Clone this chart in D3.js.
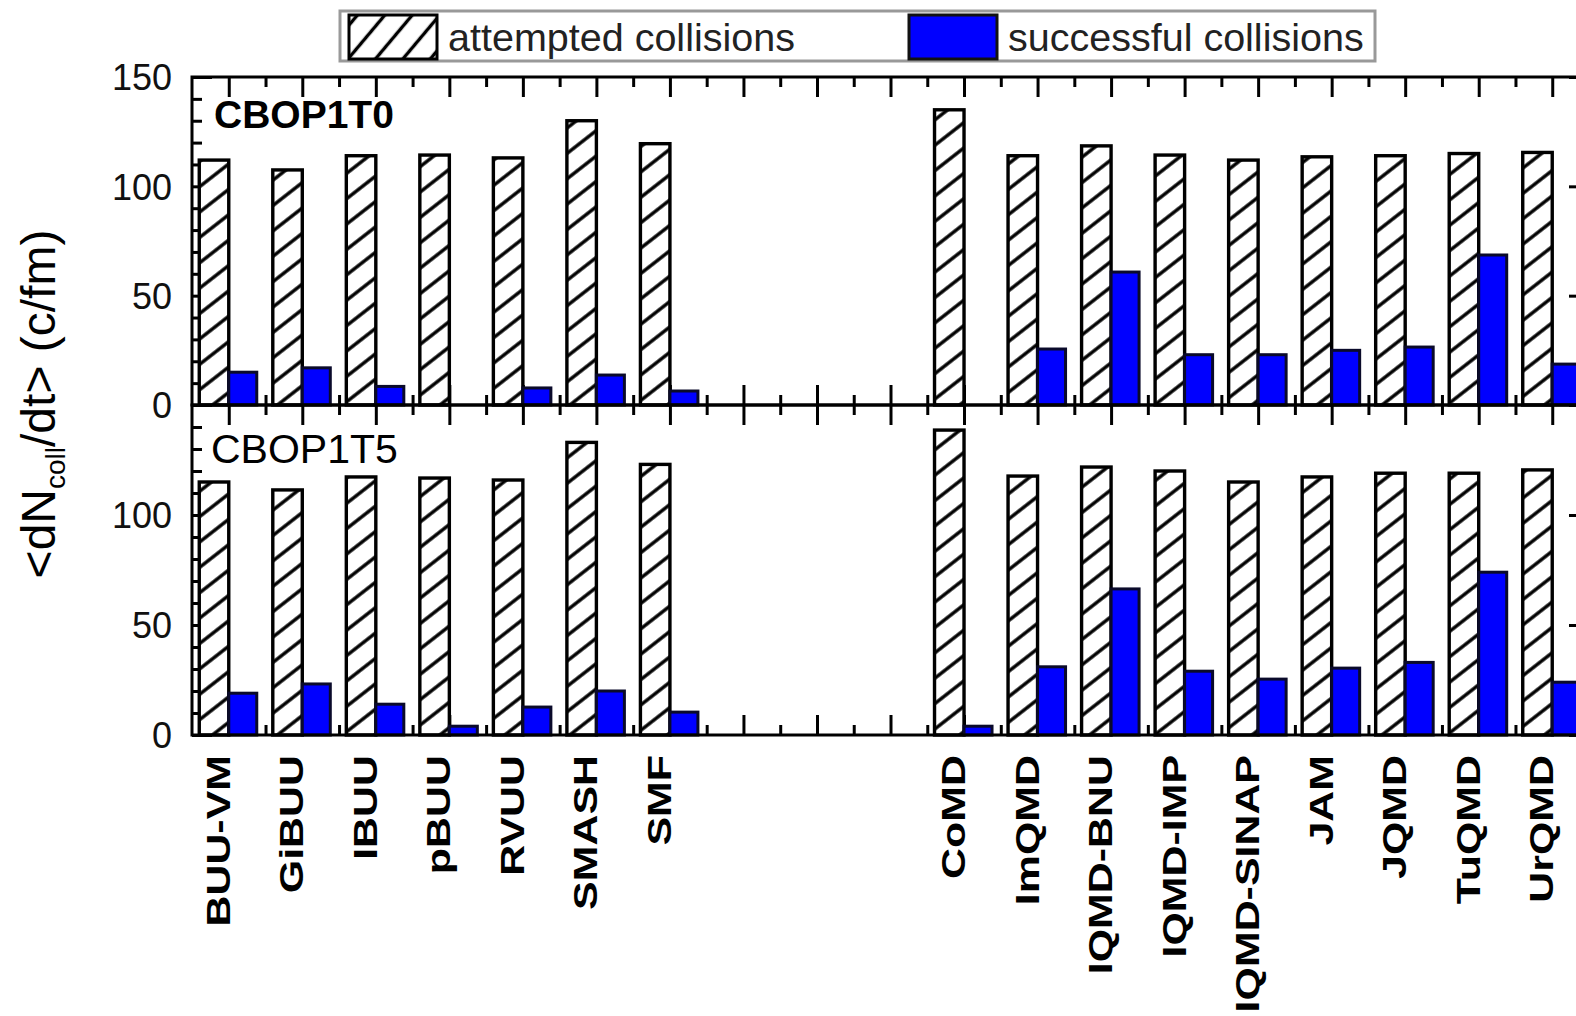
<!DOCTYPE html>
<html>
<head>
<meta charset="utf-8">
<script src="https://cdn.jsdelivr.net/npm/d3@7"></script>
<style>
  body { margin: 0; background: #fff; }
  svg { display: block; font-family: "Liberation Sans", Arial, sans-serif; }
</style>
</head>
<body>
<div id="canvas"></div>
<script>
// models (transport codes), gap of 3 empty slots between the two families
const buuModels = ["BUU-VM", "GiBUU", "IBUU", "pBUU", "RVUU", "SMASH", "SMF"];
const qmdModels = ["CoMD", "ImQMD", "IQMD-BNU", "IQMD-IMP", "IQMD-SINAP", "JAM", "JQMD", "TuQMD", "UrQMD"];
const gapSlots = 3;

// <dN_coll/dt> (c/fm), same order as buuModels then qmdModels
const attemptedT0 = [112, 107.5, 114, 114.3, 113, 130, 119.5, 135, 114, 118.5, 114.3, 112, 113.5, 114, 115, 115.5];
const successfulT0 = [15, 17, 8.5, 0, 7.8, 13.7, 6.4, 0, 25.6, 60.8, 23, 23, 25, 26.5, 68.6, 18.7];
const attemptedT5 = [115, 111.4, 117.3, 116.8, 115.9, 133, 123, 138.6, 117.7, 121.8, 120, 115, 117.3, 119, 119, 120.5];
const successfulT5 = [19, 23.2, 14, 4, 12.7, 20, 10.4, 4, 31, 66.4, 29, 25.4, 30.4, 33, 74, 24];

const panelNames = ["CBOP1T0", "CBOP1T5"];
const yMajor = [0, 50, 100, 150];
const legendLabels = ["attempted collisions", "successful collisions"];

const W = 1576, H = 1016;
const svg = d3.select("#canvas").append("svg").attr("width", W).attr("height", H);

const models = buuModels.concat(qmdModels);
const slotOf = models.map((m, i) => i < buuModels.length ? i : i + gapSlots);
const nSlots = models.length + gapSlots;

const x = d3.scaleBand().domain(d3.range(nSlots)).range([192, 1589]).padding(0);
const cx = i => x(slotOf[i]) + x.bandwidth() / 2;

const panels = [
  {name: panelNames[0], att: attemptedT0, suc: successfulT0, y: d3.scaleLinear().domain([0, 150]).range([405, 77])},
  {name: panelNames[1], att: attemptedT5, suc: successfulT5, y: d3.scaleLinear().domain([0, 150]).range([735, 405])}
];

// hatch patterns
const defs = svg.append("defs");
function hatch(id, angle, gap) {
  const p = defs.append("pattern").attr("id", id)
    .attr("patternUnits", "userSpaceOnUse")
    .attr("width", 8).attr("height", gap)
    .attr("patternTransform", `rotate(${angle})`);
  p.append("rect").attr("width", 8).attr("height", gap).attr("fill", "#fff");
  p.append("line").attr("x1", -1).attr("x2", 9).attr("y1", gap / 2).attr("y2", gap / 2)
    .attr("stroke", "#000").attr("stroke-width", 3.4);
}
hatch("hatch", -38, 20);
hatch("hatchLeg", -50, 21);

const minorX = d3.range(1, nSlots).map(i => x(i));
const majorX = d3.range(nSlots).map(i => x(i) + x.bandwidth() / 2);
const xl = d3.scaleLinear().domain([0, W]).range([0, W]);
const minorY = d3.range(0, 151, 10).filter(v => v % 50 !== 0);

panels.forEach((p, pi) => {
  const g = svg.append("g");
  const [y0, y1] = p.y.range();

  // ticks first so the bars cover the ones under them
  const noDomain = s => s.select(".domain").remove();
  g.append("g").attr("transform", `translate(0,${y1})`)
    .call(d3.axisTop(xl).tickValues(majorX).tickSize(-20).tickFormat("")).call(noDomain);
  g.append("g").attr("transform", `translate(0,${y1})`)
    .call(d3.axisTop(xl).tickValues(minorX).tickSize(-10).tickFormat("")).call(noDomain);
  g.append("g").attr("transform", `translate(0,${y0})`)
    .call(d3.axisBottom(xl).tickValues(majorX).tickSize(-20).tickFormat("")).call(noDomain);
  g.append("g").attr("transform", `translate(0,${y0})`)
    .call(d3.axisBottom(xl).tickValues(minorX).tickSize(-10).tickFormat("")).call(noDomain);

  const leftMaj = g.append("g").attr("transform", "translate(192,0)")
    .call(d3.axisLeft(p.y).tickValues(yMajor).tickSizeInner(-20).tickSizeOuter(0).tickPadding(20)
      .tickFormat(v => (pi === 1 && v === 150) ? "" : v))
    .call(noDomain);
  leftMaj.selectAll("text").attr("font-size", 36).attr("fill", "#111")
    .attr("font-family", "'Liberation Sans', Arial, sans-serif").attr("dy", "0.36em");
  g.append("g").attr("transform", "translate(192,0)")
    .call(d3.axisLeft(p.y).tickValues(minorY).tickSizeInner(-10).tickSizeOuter(0).tickFormat("")).call(noDomain);
  g.append("g").attr("transform", "translate(1589,0)")
    .call(d3.axisRight(p.y).tickValues(yMajor).tickSizeInner(-20).tickSizeOuter(0).tickFormat("")).call(noDomain);
  g.append("g").attr("transform", "translate(1589,0)")
    .call(d3.axisRight(p.y).tickValues(minorY).tickSizeInner(-10).tickSizeOuter(0).tickFormat("")).call(noDomain);
  g.selectAll(".tick line").attr("stroke", "#000").attr("stroke-width", 3);

  // bars
  const rows = p.att.map((a, i) => ({i, a, s: p.suc[i]}));
  g.selectAll(".att").data(rows).join("rect")
    .attr("x", d => cx(d.i) - 29.5).attr("width", 29.5)
    .attr("y", d => p.y(d.a)).attr("height", d => y0 - p.y(d.a))
    .attr("fill", "url(#hatch)").attr("stroke", "#000").attr("stroke-width", 3.4);
  g.selectAll(".suc").data(rows.filter(d => d.s > 0)).join("rect")
    .attr("x", d => cx(d.i)).attr("width", 28)
    .attr("y", d => p.y(d.s)).attr("height", d => y0 - p.y(d.s))
    .attr("fill", "#0000ff").attr("stroke", "#0a0a2a").attr("stroke-width", 3);

  // frame
  g.append("rect").attr("x", 192).attr("y", y1).attr("width", 1589 - 192).attr("height", y0 - y1)
    .attr("fill", "none").attr("stroke", "#000").attr("stroke-width", 3);

  g.append("text").attr("x", pi === 0 ? 214 : 211).attr("y", pi === 0 ? 128 : 463)
    .attr("font-size", pi === 0 ? 39 : 41).attr("font-weight", pi === 0 ? "bold" : "normal")
    .attr("fill", "#000").text(p.name);
});

// category labels, rotated
svg.append("g").selectAll("text").data(models).join("text")
  .attr("transform", (d, i) => `translate(${cx(i) + 1},755) rotate(-90) scale(1.3,1)`)
  .attr("text-anchor", "end").attr("font-size", 33).attr("font-weight", "bold")
  .attr("fill", "#000").text(d => d);

// y title
const yt = svg.append("text").attr("transform", "translate(55,404) rotate(-90)")
  .attr("text-anchor", "middle").attr("font-size", 48).attr("fill", "#000");
yt.append("tspan").text("<dN");
yt.append("tspan").attr("font-size", 28).attr("dy", 10).text("coll");
yt.append("tspan").attr("dy", -10).text("/dt> (c/fm)");

// legend
const leg = svg.append("g");
leg.append("rect").attr("x", 340).attr("y", 11).attr("width", 1035).attr("height", 50)
  .attr("fill", "#fff").attr("stroke", "#999").attr("stroke-width", 3);
leg.append("rect").attr("x", 349).attr("y", 15).attr("width", 88).attr("height", 44)
  .attr("fill", "url(#hatchLeg)").attr("stroke", "#000").attr("stroke-width", 3);
leg.append("rect").attr("x", 909).attr("y", 15).attr("width", 88).attr("height", 44)
  .attr("fill", "#0000ff").attr("stroke", "#111").attr("stroke-width", 3);
leg.selectAll(".lt").data(legendLabels).join("text")
  .attr("x", (d, i) => i === 0 ? 448 : 1008).attr("y", 51)
  .attr("font-size", 39.5).attr("fill", "#222").text(d => d);
</script>
</body>
</html>
